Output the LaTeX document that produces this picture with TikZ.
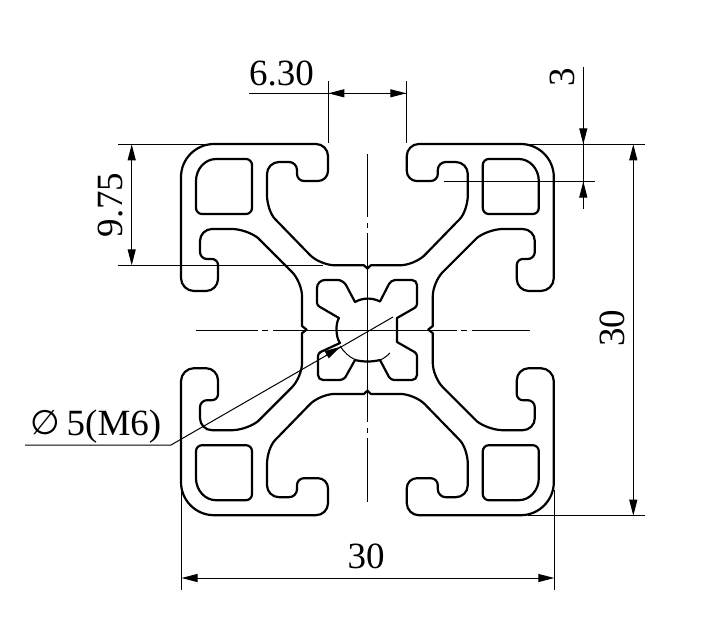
\documentclass[tikz,border=0pt]{standalone}
\usepackage{fontspec}
\setmainfont{Liberation Serif}
\newfontfamily\symf{DejaVu Sans}
\usetikzlibrary{arrows.meta,calc}
\tikzset{
  prof/.style={line width=2.2pt,line join=round,line cap=round},
  thin line/.style={line width=1pt},
  dimarrow/.style={thin line,-{Triangle[length=16pt,width=8pt]}},
  dimarrows/.style={thin line,{Triangle[length=16pt,width=8pt]}-{Triangle[length=16pt,width=8pt]}},
  lab/.style={inner sep=0pt,anchor=base,font=\fontsize{37}{37}\selectfont}
}
\newcommand\crnr[3]{-- (#1) .. controls ($(#1)!.55!(#2)$) and ($(#3)!.55!(#2)$) .. (#3) }
\newcommand\quadpart{%
  \draw[prof] (367.4,268.5) -- (364,265.3)
    \crnr{335,265.3}{320,265.3}{310,255}
    \crnr{275,219}{267,211}{267,195}
    \crnr{267,174}{267,162}{279,162}
    \crnr{289,162}{297,162}{297,170}
    \crnr{297,174}{297,181}{304,181}
    \crnr{318,181}{328,181}{328,171}
    \crnr{328,156}{328,144}{316,144}
    \crnr{214,144}{181,144}{181,177}
    \crnr{181,278}{181,291}{194,291}
    \crnr{206,291}{218,291}{218,279}
    \crnr{218,265}{218,259}{212,259}
    \crnr{207,259}{200,259}{200,252}
    \crnr{200,241}{200,229}{212,229}
    \crnr{232,229}{247,229}{258,238}
    \crnr{292,272}{302,282}{302,296}
    -- (302,326) -- (306.5,329.6);
  \draw[prof] (252,190)
    \crnr{252,165}{252,159}{246,159}
    \crnr{216,159}{196,159}{196,181}
    \crnr{196,208}{196,214}{202,214}
    \crnr{246,214}{252,214}{252,208}
    -- cycle;
}
\begin{document}
\begin{tikzpicture}[x=1pt,y=-1pt]
\useasboundingbox (0,0) rectangle (709,643);
\fill[white] (0,0) rectangle (709,643);
% profile: one quadrant, mirrored about the centre
\quadpart
\begin{scope}[shift={(367.4,329.6)},xscale=-1,shift={(-367.4,-329.6)}]\quadpart\end{scope}
\begin{scope}[shift={(367.4,329.6)},yscale=-1,shift={(-367.4,-329.6)}]\quadpart\end{scope}
\begin{scope}[shift={(367.4,329.6)},scale=-1,shift={(-367.4,-329.6)}]\quadpart\end{scope}
% centre hole
\draw[prof] (380,301.5) .. controls (372,297.5) and (363,297.5) .. (355,302)
  \crnr{346,285}{343,280}{338,280}
  \crnr{325,280}{317,280}{317,288}
  \crnr{317,303}{317,305.5}{320,307}
  -- (339,318) .. controls (335.5,323) and (335.5,337) .. (340,343)
  \crnr{320.5,352}{318,353.5}{318,356}
  \crnr{318,375}{318,380}{323,380}
  \crnr{340,380}{343.5,380}{345.5,377}
  -- (355,360) .. controls (363,362) and (372,362) .. (380,360)
  \crnr{389,377}{391,380}{394,380}
  \crnr{412,380}{417,380}{417,375}
  \crnr{417,356}{417,353.5}{414.5,352}
  -- (397,342) -- (397,318)
  \crnr{414.5,308}{417,306.5}{417,304}
  \crnr{417,285}{417,280}{412,280}
  \crnr{395,280}{391,280}{389,284}
  -- cycle;
% thread arcs
\draw[thin line] (340,346) .. controls (344,352) and (349,357) .. (355,359.5);
\draw[thin line] (380,360) .. controls (383,359) and (387,356) .. (390,353);
% centre lines
\foreach \a/\b in {154/217,223/228,233/422,428/433,438/502}
  \draw[thin line] (367.4,\a) -- (367.4,\b);
\foreach \a/\b in {196/258,262/268,273/457,461/467,472/530}
  \draw[thin line] (\a,330) -- (\b,330);
% named dimension points
\coordinate (ax) at (328.3,81);   \coordinate (ay) at (328.3,143);
\coordinate (bx) at (406.3,81);   \coordinate (by) at (406.3,143);
\coordinate (c1) at (249,93.3);   \coordinate (c2) at (328.3,93.3); \coordinate (c3) at (406.3,93.3);
\coordinate (r1) at (529,144.3);  \coordinate (r2) at (645,144.3);
\coordinate (r3) at (528,515.7);  \coordinate (r4) at (645,515.7);
\coordinate (s1) at (444,181.5);  \coordinate (s2) at (595,181.5);
\coordinate (t1) at (583.3,67);   \coordinate (t2) at (583.3,144.3);
\coordinate (t3) at (583.3,181.5);\coordinate (t4) at (583.3,209);
\coordinate (u1) at (633.3,144.3);\coordinate (u2) at (633.3,515.7);
\coordinate (v1) at (118,144.3);  \coordinate (v2) at (206,144.3);
\coordinate (v3) at (118,265.3);  \coordinate (v4) at (323,265.3);
\coordinate (w1) at (131.7,144.3);\coordinate (w2) at (131.7,265.3);
\coordinate (x1) at (181.5,490);  \coordinate (x2) at (181.5,590);
\coordinate (x3) at (554.3,490);  \coordinate (x4) at (554.3,590);
\coordinate (y1) at (181.5,578);  \coordinate (y2) at (554.3,578);
\coordinate (l1) at (393,317);    \coordinate (l2) at (171,445); \coordinate (l3) at (25,445);
\coordinate (h1) at (327,354.5);  \coordinate (h2) at (340.5,346.7);
% dimensions
\draw[thin line] (ax) -- (ay);
\draw[thin line] (bx) -- (by);
\draw[thin line] (c1) -- (c3);
\draw[dimarrow] ($(c2)+(17,0)$) -- (c2);
\draw[dimarrow] ($(c3)+(-17,0)$) -- (c3);
\draw[thin line] (r1) -- (r2);
\draw[thin line] (r3) -- (r4);
\draw[thin line] (s1) -- (s2);
\draw[thin line] (t1) -- (t4);
\draw[dimarrow] ($(t2)+(0,-17)$) -- (t2);
\draw[dimarrow] ($(t3)+(0,17)$) -- (t3);
\draw[dimarrows] (u1) -- (u2);
\draw[thin line] (v1) -- (v2);
\draw[thin line] (v3) -- (v4);
\draw[dimarrows] (w1) -- (w2);
\draw[thin line] (x1) -- (x2);
\draw[thin line] (x3) -- (x4);
\draw[dimarrows] (y1) -- (y2);
\draw[thin line] (l1) -- (l2) -- (l3);
\draw[dimarrow] (h1) -- (h2);
% labels
\node[lab] (n630) at (281.5,85) {6.30};
\node[lab,rotate=90] (n3) at (574,77) {3};
\node[lab,rotate=90] (n30r) at (624,328) {30};
\node[lab,rotate=90] (n975) at (122,205) {9.75};
\node[lab] (n30b) at (366,568) {30};
\node[lab,anchor=base west] (nm6) at (66.5,435) {5(M6)};
\node[inner sep=0pt,anchor=base,font=\symf\fontsize{34}{34}\selectfont] (nphi) at (45,434) {∅};
\end{tikzpicture}
\end{document}
